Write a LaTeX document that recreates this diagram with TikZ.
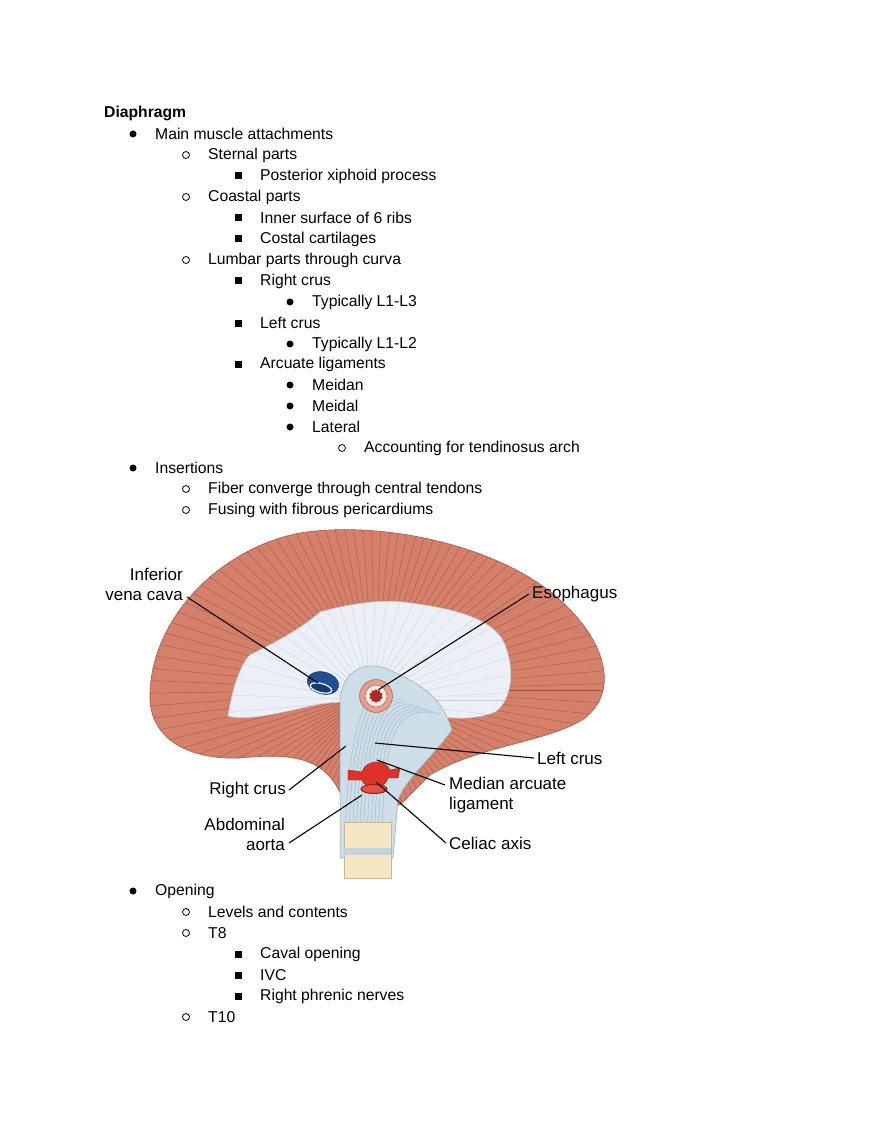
\documentclass[tikz,border=0pt]{standalone}
\usepackage{fontspec}
\setmainfont{Liberation Sans}
\usetikzlibrary{shapes.geometric}
\definecolor{mus}{RGB}{212,128,106}
\definecolor{musd}{RGB}{170,90,75}
\definecolor{fib}{RGB}{160,78,65}
\definecolor{ten}{RGB}{236,240,246}
\definecolor{tend}{RGB}{200,205,215}
\definecolor{tfib}{RGB}{195,205,220}
\definecolor{cru}{RGB}{205,222,232}
\definecolor{crud}{RGB}{150,170,185}
\definecolor{bone}{RGB}{245,230,195}
\definecolor{boned}{RGB}{200,185,150}
\definecolor{band}{RGB}{200,210,220}
\definecolor{esoa}{RGB}{225,160,140}
\definecolor{esob}{RGB}{250,235,225}
\definecolor{esoc}{RGB}{170,40,40}
\definecolor{ivca}{RGB}{30,80,150}
\definecolor{ivcb}{RGB}{15,40,90}
\definecolor{ivcc}{RGB}{20,60,120}
\definecolor{red1}{RGB}{220,50,40}
\definecolor{red2}{RGB}{150,30,25}
\definecolor{red3}{RGB}{230,80,60}
\begin{document}
\begin{tikzpicture}[x=1pt,y=-1pt,
  txt/.style={anchor=west,inner sep=0,font=\fontsize{15.7}{18}\selectfont},
  bA/.style={circle,fill=black,minimum size=7pt,inner sep=0},
  bB/.style={circle,draw=black,line width=0.8pt,minimum size=7pt,inner sep=0},
  bC/.style={rectangle,fill=black,minimum size=7pt,inner sep=0},
  lab/.style={inner sep=0,font=\fontsize{17}{20}\selectfont,align=#1},
  lab/.default=left,
  lead/.style={line width=1.1pt,black},
  muscle/.style={fill=mus,draw=musd,line width=0.6pt},
  tendon/.style={fill=ten,draw=tend,line width=0.5pt},
  crus/.style={fill=cru,draw=crud,line width=0.5pt}]
\useasboundingbox (0,0) rectangle (880,1139);
\fill[white] (0,0) rectangle (880,1139);
% ---------- outline text ----------
\node[txt,font=\fontsize{15.7}{18}\selectfont\bfseries] (t0) at (104,113) {Diaphragm};
\newcommand\itm[4]{\node[#3] at (#1,#2) {};\node[txt] at (#1+22,#2) {#4};}
\itm{133}{134}{bA}{Main muscle attachments}
\itm{186}{155}{bB}{Sternal parts}
\itm{238}{176}{bC}{Posterior xiphoid process}
\itm{186}{197}{bB}{Coastal parts}
\itm{238}{218}{bC}{Inner surface of 6 ribs}
\itm{238}{239}{bC}{Costal cartilages}
\itm{186}{260}{bB}{Lumbar parts through curva}
\itm{238}{281}{bC}{Right crus}
\itm{290}{302}{bA}{Typically L1-L3}
\itm{238}{323}{bC}{Left crus}
\itm{290}{344}{bA}{Typically L1-L2}
\itm{238}{364}{bC}{Arcuate ligaments}
\itm{290}{385}{bA}{Meidan}
\itm{290}{406}{bA}{Meidal}
\itm{290}{427}{bA}{Lateral}
\itm{342}{448}{bB}{Accounting for tendinosus arch}
\itm{133}{468}{bA}{Insertions}
\itm{186}{489}{bB}{Fiber converge through central tendons}
\itm{186}{510}{bB}{Fusing with fibrous pericardiums}
\itm{133}{891}{bA}{Opening}
\itm{186}{912}{bB}{Levels and contents}
\itm{186}{933}{bB}{T8}
\itm{238}{954}{bC}{Caval opening}
\itm{238}{975}{bC}{IVC}
\itm{238}{996}{bC}{Right phrenic nerves}
\itm{186}{1017}{bB}{T10}
% ---------- diagram ----------
\def\musc{(150,700) .. controls (148,620) and (220,548) .. (300,533)
  .. controls (380,520) and (500,545) .. (560,600)
  .. controls (605,640) and (620,690) .. (585,718)
  .. controls (550,742) and (480,745) .. (430,775)
  -- (400,805) -- (345,805)
  .. controls (330,760) and (300,752) .. (240,758)
  .. controls (190,760) and (152,740) .. (150,700) -- cycle}
\path[muscle] \musc;
\begin{scope}
\clip \musc;
\foreach \a in {0,3.2,...,360}{\draw[fib,line width=0.3pt] (375,690) -- ++(\a:300);}
\end{scope}
% central tendon
\def\tend{(228,716) .. controls (232,690) and (240,665) .. (250,655)
  .. controls (270,645) and (300,630) .. (320,612)
  .. controls (345,605) and (380,598) .. (410,603)
  .. controls (450,608) and (495,618) .. (505,645)
  .. controls (515,670) and (512,700) .. (495,712)
  .. controls (470,722) and (440,718) .. (420,712)
  .. controls (390,700) and (350,700) .. (320,704)
  .. controls (290,710) and (250,722) .. (228,716) -- cycle}
\path[tendon] \tend;
\begin{scope}
\clip \tend;
\foreach \a in {0,7,...,360}{\draw[tfib,line width=0.3pt] (370,700) -- ++(\a:200);}
\end{scope}
% crura column
\path[crus] (340,858) -- (340,700) .. controls (342,675) and (360,660) .. (385,668)
  .. controls (410,680) and (440,690) .. (452,730)
  .. controls (430,760) and (405,780) .. (398,800) -- (393,858) -- cycle;
\foreach \i in {0,4,...,40}{\draw[crud,line width=0.3pt] (345+\i*0.9,855) .. controls (345+\i,760) and (360+\i*0.6,700) .. (375+\i*1.6,690+\i*0.6);}
% spine
\path[fill=bone,draw=boned] (344,822) rectangle (391,878);
\fill[band] (344,848) rectangle (391,855);
% esophagus
\node[circle,minimum size=33pt,fill=esoa,draw=fib,inner sep=0] (eso) at (376,696) {};
\node[circle,minimum size=22pt,fill=esob,draw=fib,inner sep=0] at (eso) {};
\node[star,star points=10,star point ratio=1.3,minimum size=14pt,fill=esoc,inner sep=0] at (eso) {};
% IVC
\node[ellipse,minimum width=32pt,minimum height=22pt,fill=ivca,draw=ivcb,rotate=-15,inner sep=0] (ivc) at (323,683) {};
\node[ellipse,minimum width=22pt,minimum height=9pt,draw=white,line width=1.2pt,fill=ivcc,rotate=-15,inner sep=0] at (321,688) {};
% celiac / aorta
\path[fill=red1,draw=red2] (348,770) -- (362,772) .. controls (365,760) and (385,758) .. (390,770) -- (400,768) -- (398,778) -- (388,778) .. controls (385,790) and (365,790) .. (362,780) -- (348,780) -- cycle;
\node[ellipse,minimum width=26pt,minimum height=9pt,fill=red3,draw=red2,line width=1pt,inner sep=0] (ao) at (374,789) {};
% labels
\node[lab=right,anchor=east] (lIVC) at (183,584) {Inferior\\vena cava};
\node[lab,anchor=west] (lEso) at (532,594) {Esophagus};
\node[lab,anchor=west] (lLc) at (537,758) {Left crus};
\node[lab,anchor=west] (lMal) at (449,795) {Median arcuate\\ligament};
\node[lab,anchor=east] (lRc) at (286,790) {Right crus};
\node[lab=right,anchor=east] (lAa) at (285,834) {Abdominal\\aorta};
\node[lab,anchor=west] (lCa) at (449,843) {Celiac axis};
\coordinate (pIVC) at (318,683);
\coordinate (pEso) at (378,690);
\coordinate (pLc) at (375,743);
\coordinate (pMal) at (377,760);
\coordinate (pRc) at (346,746);
\coordinate (pAa) at (362,795);
\coordinate (pCa) at (376,782);
\draw[lead] (187,597) -- (pIVC);
\draw[lead] ([xshift=-3pt]lEso.west) -- (pEso);
\draw[lead] ([xshift=-3pt]lLc.west) -- (pLc);
\draw[lead] (445,785) -- (pMal);
\draw[lead] ([xshift=3pt]lRc.east) -- (pRc);
\draw[lead] (289,843) -- (pAa);
\draw[lead] ([xshift=-3pt]lCa.west) -- (pCa);
\end{tikzpicture}
\end{document}
